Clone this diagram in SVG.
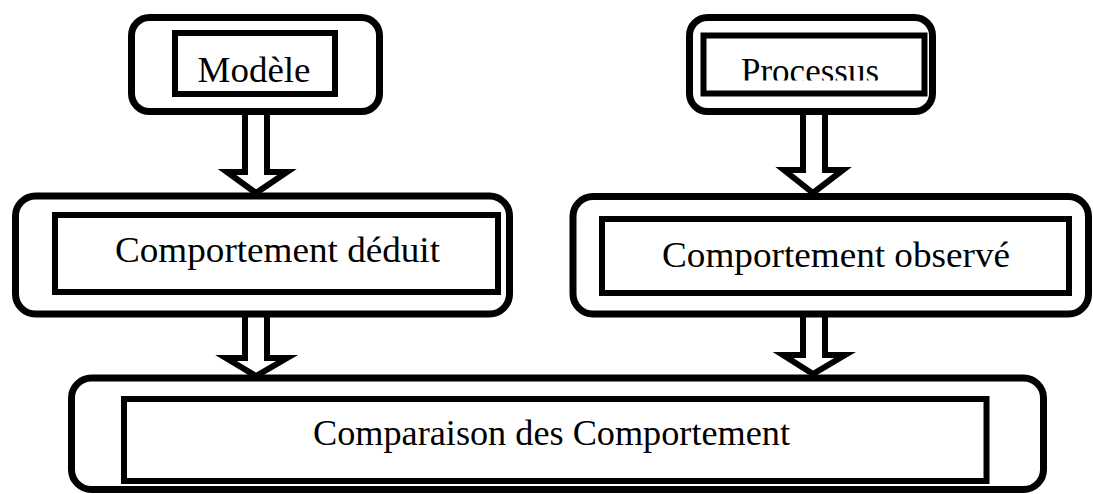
<svg xmlns="http://www.w3.org/2000/svg" width="1093" height="494" viewBox="0 0 1093 494">
<style>
.outer{fill:none;stroke:#000;stroke-width:7}
.inner{fill:#fff;stroke:#000;stroke-width:6}
.arrow{fill:#fff;stroke:#000;stroke-width:6;stroke-linejoin:miter}
.lbl{font-family:"Liberation Serif","Times New Roman",serif;font-size:36px;fill:#000;text-anchor:middle}
</style>
<defs>
<clipPath id="clipProc"><rect x="700" y="30" width="230" height="50.5"/></clipPath>
</defs>
<rect width="1093" height="494" fill="#fff"/>
<g id="connectors">
<path class="arrow" d="M245,112 V172 H227 L256,193 L287,172 H267 V112"/>
<path class="arrow" d="M245,314 V358 H226 L256,376 L287,358 H267 V314"/>
<path class="arrow" d="M803,112 V170 H784 L813,193 L843,170 H825 V112"/>
<path class="arrow" d="M803,314 V355 H783 L813,374 L845,355 H825 V314"/>
</g>
<g id="modele">
<rect class="outer" x="131.5" y="17.5" width="248" height="94" rx="18"/>
<rect class="inner" x="175" y="33" width="160" height="61"/>
<text class="lbl" x="254" y="82" textLength="113" lengthAdjust="spacingAndGlyphs">Modèle</text>
</g>
<g id="processus">
<rect class="outer" x="689.5" y="17.5" width="243" height="94" rx="18"/>
<rect class="inner" x="703.5" y="35.5" width="221" height="58"/>
<text class="lbl" x="810" y="83" textLength="138" lengthAdjust="spacingAndGlyphs" clip-path="url(#clipProc)">Processus</text>
</g>
<g id="deduit">
<rect class="outer" x="15.5" y="196" width="494" height="118" rx="20"/>
<rect class="inner" x="55" y="215" width="443" height="77"/>
<text class="lbl" x="277.5" y="262" textLength="325" lengthAdjust="spacingAndGlyphs">Comportement déduit</text>
</g>
<g id="observe">
<rect class="outer" x="573" y="196.5" width="515.5" height="117.5" rx="20"/>
<rect class="inner" x="602" y="219" width="467" height="74"/>
<text class="lbl" x="836" y="267" textLength="348" lengthAdjust="spacingAndGlyphs">Comportement observé</text>
</g>
<g id="comparaison">
<rect class="outer" x="71.5" y="378" width="972" height="111.5" rx="20"/>
<rect class="inner" x="124" y="399" width="862.5" height="82"/>
<text class="lbl" x="551.5" y="445" textLength="477" lengthAdjust="spacingAndGlyphs">Comparaison des Comportement</text>
</g>
</svg>
